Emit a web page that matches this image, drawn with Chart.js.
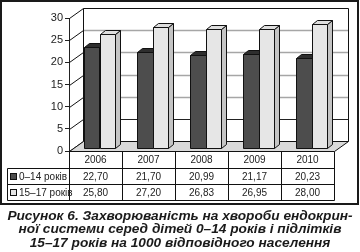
<!DOCTYPE html>
<html>
<head>
<meta charset="utf-8">
<script src="https://cdn.jsdelivr.net/npm/chart.js@4/dist/chart.umd.min.js"></script>
<style>
  body { margin: 0; background: #fff; width: 360px; height: 252px; overflow: hidden; position: relative; }
  #chart { position: absolute; left: 0; top: 0; }
  #frame { position: absolute; left: 0; top: 0; width: 359px; height: 205px; box-sizing: border-box; border: 2px solid #1a1a1a; pointer-events: none; }
  #caption { position: absolute; left: 0; top: 209px; width: 360px; text-align: center;
    font: italic bold 13.7px "Liberation Sans", Arial, sans-serif; line-height: 13.3px; color: #1a1a1a; white-space: nowrap; }
</style>
</head>
<body>
<canvas id="chart" width="360" height="205"></canvas>
<div id="frame"></div>
<div id="caption">Рисунок 6. Захворюваність на хвороби ендокрин-<br>ної системи серед дітей 0–14 років і підлітків<br>15–17 років на 1000 відповідного населення</div>
<script>
// data
const years = ['2006', '2007', '2008', '2009', '2010'];
const kids = [22.70, 21.70, 20.99, 21.17, 20.23];   // 0–14 років
const teens = [25.80, 27.20, 26.83, 26.95, 28.00];  // 15–17 років
const seriesNames = ['0–14 років', '15–17 років'];
const yMin = 0, yMax = 30, yStep = 5;

// 3D look
const WALL_DX = 14, WALL_DY = -10;   // depth of the box
const BAR_OX = 4, BAR_OY = -3;       // bars sit a bit inside the box
const BAR_DX = 5, BAR_DY = -4;       // depth of a bar
const faces = [
  { front: '#4d4d4d', top: '#2e2e2e', side: '#3a3a3a' },
  { front: '#e6e6e6', top: '#dedede', side: '#c4c4c4' }
];
const font = '"Liberation Sans", Arial, sans-serif';
const fmt = v => v.toFixed(2).replace('.', ',');

function poly(ctx, pts, fill) {
  ctx.beginPath();
  ctx.moveTo(pts[0][0], pts[0][1]);
  for (let i = 1; i < pts.length; i++) ctx.lineTo(pts[i][0], pts[i][1]);
  ctx.closePath();
  if (fill) { ctx.fillStyle = fill; ctx.fill(); }
  ctx.stroke();
}

function line(ctx, x0, y0, x1, y1, color) {
  ctx.strokeStyle = color || '#111';
  ctx.beginPath();
  ctx.moveTo(x0, y0);
  ctx.lineTo(x1, y1);
  ctx.stroke();
}

// walls, floor and the 3D bars
const box3d = {
  id: 'box3d',
  beforeDatasetsDraw(chart) {
    const { ctx, chartArea: a, scales: { y } } = chart;
    const L = Math.round(a.left) + 0.5, R = Math.round(a.right) + 0.5;
    const B = Math.round(a.bottom) + 0.5, T = Math.round(a.top) + 0.5;
    ctx.save();
    ctx.lineWidth = 1;

    // back wall + grid lines
    ctx.fillStyle = '#fff';
    ctx.fillRect(L + WALL_DX, T + WALL_DY, R - L, B - T);
    y.ticks.forEach(t => {
      const py = Math.round(y.getPixelForValue(t.value)) + 0.5;
      if (t.value > yMin && t.value < yMax) {
        ctx.lineWidth = t.value === yStep ? 1 : 1.5;
        line(ctx, L + WALL_DX, py + WALL_DY, R + WALL_DX, py + WALL_DY, t.value === yStep ? '#222' : '#a6a6a6');
        ctx.lineWidth = 1;
      }
      // left wall
      line(ctx, L, py, L + WALL_DX, py + WALL_DY);
    });
    line(ctx, L + WALL_DX, T + WALL_DY, R + WALL_DX, T + WALL_DY);
    line(ctx, L + WALL_DX, T + WALL_DY, L + WALL_DX, B + WALL_DY);
    line(ctx, R + WALL_DX, T + WALL_DY, R + WALL_DX, B + WALL_DY);

    // floor
    ctx.strokeStyle = '#111';
    poly(ctx, [[L, B], [R, B], [R + WALL_DX, B + WALL_DY], [L + WALL_DX, B + WALL_DY]], '#d9d9d9');

    // bars
    const metas = chart.data.datasets.map((d, i) => chart.getDatasetMeta(i));
    for (let i = 0; i < years.length; i++) {
      metas.forEach((meta, di) => {
        const p = meta.data[i].getProps(['x', 'y', 'base', 'width'], true);
        const x0 = Math.round(p.x - p.width / 2 + BAR_OX) + 0.5;
        const x1 = Math.round(p.x + p.width / 2 + BAR_OX) + 0.5;
        const yt = Math.round(p.y + BAR_OY) + 0.5;
        const yb = Math.round(p.base + BAR_OY) + 0.5;
        const f = faces[di];
        ctx.strokeStyle = '#111';
        poly(ctx, [[x1, yt], [x1 + BAR_DX, yt + BAR_DY], [x1 + BAR_DX, yb + BAR_DY], [x1, yb]], f.side);
        poly(ctx, [[x0, yt], [x1, yt], [x1 + BAR_DX, yt + BAR_DY], [x0 + BAR_DX, yt + BAR_DY]], f.top);
        poly(ctx, [[x0, yt], [x1, yt], [x1, yb], [x0, yb]], f.front);
      });
    }
    ctx.restore();
    return false;
  },
  // data table under the plot
  afterDraw(chart) {
    const { ctx, chartArea: a, scales: { x } } = chart;
    const R = Math.round(a.right) + 0.5;
    const B = Math.round(a.bottom) + 0.5;
    const tableLeft = 7.5;
    const rows = [B + 17, B + 33, B + 49];
    const colW = (a.right - a.left) / years.length;
    ctx.save();
    ctx.lineWidth = 1;
    rows.forEach(ry => line(ctx, tableLeft, ry, R, ry));
    line(ctx, tableLeft, rows[0], tableLeft, rows[2]);
    for (let i = 0; i <= years.length; i++) {
      const cx = Math.round(a.left + i * colW) + 0.5;
      line(ctx, cx, B, cx, rows[2]);
    }

    ctx.fillStyle = '#222';
    ctx.font = '10px ' + font;
    ctx.textAlign = 'center';
    ctx.textBaseline = 'middle';
    const series = [kids, teens];
    years.forEach((yr, i) => {
      const cx = x.getPixelForValue(i);
      ctx.fillText(yr, cx, (B + rows[0]) / 2 + 0.5);
      series.forEach((s, si) => {
        ctx.fillText(fmt(s[i]), cx, (rows[si] + rows[si + 1]) / 2 + 0.5);
      });
    });

    // series labels with colour keys
    ctx.textAlign = 'left';
    seriesNames.forEach((name, si) => {
      const cy = (rows[si] + rows[si + 1]) / 2;
      ctx.fillStyle = faces[si].front;
      ctx.strokeStyle = '#111';
      ctx.fillRect(10.5, Math.round(cy) - 3.5, 6, 6);
      ctx.strokeRect(10.5, Math.round(cy) - 3.5, 6, 6);
      ctx.fillStyle = '#222';
      ctx.fillText(name, 19, cy + 0.5);
    });
    ctx.restore();
  }
};

new Chart(document.getElementById('chart'), {
  type: 'bar',
  data: {
    labels: years,
    datasets: [
      { label: seriesNames[0], data: kids, backgroundColor: faces[0].front },
      { label: seriesNames[1], data: teens, backgroundColor: faces[1].front }
    ]
  },
  options: {
    responsive: false,
    animation: false,
    events: [],
    layout: { padding: { left: 0, top: 18, right: 26, bottom: 54 } },
    datasets: { bar: { categoryPercentage: 0.57, barPercentage: 1 } },
    plugins: { legend: { display: false }, tooltip: { enabled: false } },
    scales: {
      x: { display: false },
      y: {
        min: yMin, max: yMax,
        ticks: { stepSize: yStep, color: '#222', padding: 2, font: { family: font, size: 11 } },
        grid: { drawOnChartArea: false, drawTicks: true, tickLength: 4, color: '#222' },
        border: { color: '#222' },
        afterFit(s) { s.width = 69; }
      }
    }
  },
  plugins: [box3d]
});
</script>
</body>
</html>
